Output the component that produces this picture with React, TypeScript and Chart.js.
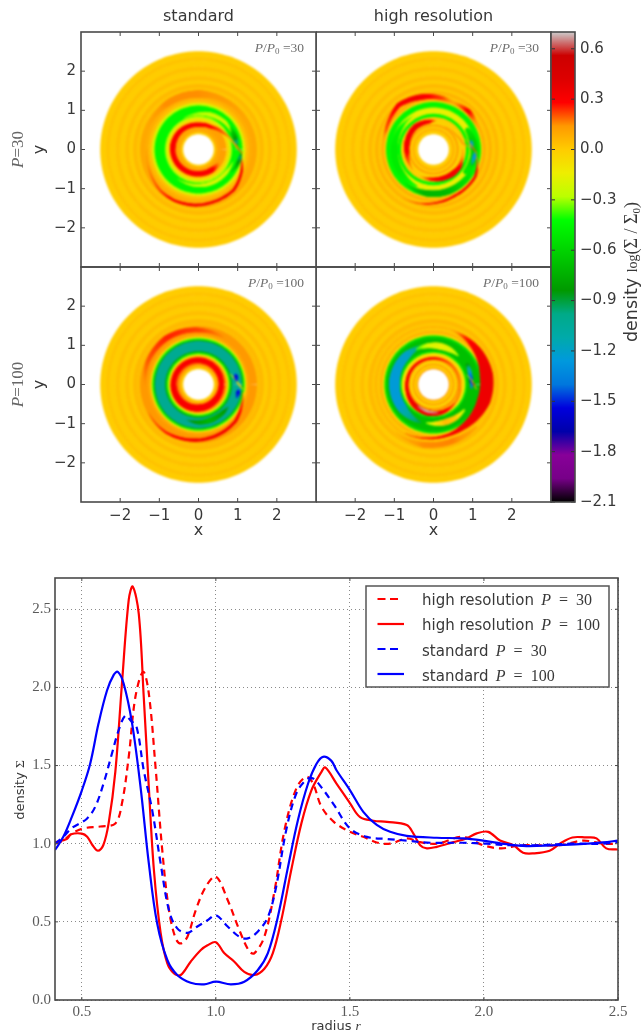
import { useEffect, useRef } from "react";
import { Chart, registerables } from "chart.js";
Chart.register(...registerables);

// ---------- colour scale (colour bar) ----------
const cbarMin = -2.1;
const cbarMax = 0.7;
const cbarTicks = [-2.1, -1.8, -1.5, -1.2, -0.9, -0.6, -0.3, 0.0, 0.3, 0.6];
const cmapR = [0, 119, 136, 0, 0, 0, 0, 0, 0, 0, 0, 0, 0, 187, 238, 255, 255, 255, 221, 204, 204];
const cmapG = [0, 0, 0, 0, 0, 119, 153, 170, 170, 153, 187, 221, 255, 255, 238, 204, 153, 0, 0, 0, 204];
const cmapB = [0, 136, 153, 170, 221, 221, 221, 170, 136, 0, 0, 0, 0, 0, 0, 0, 0, 0, 0, 0, 204];

function cmap(v: number) {
  const t = Math.min(1, Math.max(0, (v - cbarMin) / (cbarMax - cbarMin))) * (cmapR.length - 1);
  const i = Math.min(cmapR.length - 2, Math.floor(t));
  const f = t - i;
  const m = (a: number[]) => Math.round(a[i] + (a[i + 1] - a[i]) * f);
  return `rgb(${m(cmapR)},${m(cmapG)},${m(cmapB)})`;
}

// ---------- disc panels: ring edges, ring values, then bands [angle deg, radius, half width, value] ----------
type N = [number, number, number, number];

const outerEdges = [1.58, 1.68, 1.78, 1.88, 2.02, 2.12, 2.28, 2.36, 2.5];
const outerVals = [0.05, 0.0, 0.035, 0.0, 0.03, 0.0, 0.025, 0.0];

const ringsAEdges = [0.4, 0.46, 0.55, 0.72, 0.8, 0.86, 1.13, 1.2, 1.28, 1.36, 1.5, ...outerEdges];
const ringsAVals = [0.0, 0.1, 0.12, -0.05, -0.25, -0.45, -0.2, 0.03, 0.08, 0.1, 0.02, ...outerVals];
const bandsA: N[][] = [
  [[-180, 1.32, 0.02, 0.1], [-157, 1.36, 0.025, 0.16], [-133, 1.43, 0.03, 0.22], [-116, 1.44, 0.03, 0.3], [-92, 1.42, 0.035, 0.33], [-74, 1.39, 0.035, 0.33], [-49, 1.37, 0.035, 0.33], [-25, 1.22, 0.03, 0.3], [-15, 1.14, 0.02, 0.2], [-5, 1.08, 0.01, 0.1]],
  [[160, 1.4, 0.01, 0.1], [125, 1.42, 0.08, 0.15], [90, 1.42, 0.09, 0.15], [60, 1.42, 0.05, 0.13], [30, 1.42, 0.01, 0.1]],
  [[-30, 0.62, 0.03, 0.1], [-60, 0.62, 0.07, 0.3], [-90, 0.62, 0.07, 0.3], [-135, 0.64, 0.07, 0.3], [-180, 0.66, 0.07, 0.3], [-225, 0.66, 0.06, 0.3], [-270, 0.63, 0.05, 0.3], [-300, 0.66, 0.04, 0.28], [-325, 0.76, 0.03, 0.2], [-345, 0.88, 0.02, 0.1], [-358, 0.98, 0.012, 0.05]],
  [[25, 0.95, 0.01, -0.3], [45, 0.97, 0.05, -0.22], [70, 0.94, 0.06, -0.25], [95, 0.9, 0.03, -0.3], [115, 0.88, 0.01, -0.35]],
  [[-20, 0.93, 0.01, -0.3], [-40, 0.92, 0.05, -0.22], [-70, 0.92, 0.05, -0.2], [-100, 0.92, 0.03, -0.25], [-125, 0.92, 0.01, -0.35]],
  [[5, 1.0, 0.01, -0.7], [12, 0.98, 0.06, -1.0], [22, 0.98, 0.06, -0.75], [35, 1.0, 0.01, -0.5]],
  [[-3, 1.1, 0.01, -0.8], [-12, 1.08, 0.05, -0.95], [-25, 1.05, 0.03, -0.7], [-35, 1.0, 0.01, -0.5]],
  [[18, 0.85, 0.008, 0.1], [8, 0.95, 0.016, 0.15], [0, 1.03, 0.016, 0.2], [-5, 1.12, 0.012, 0.1]],
];

const ringsBEdges = [0.4, 0.5, 0.54, 0.6, 0.65, 0.76, 0.84, 0.92, 1.08, 1.22, 1.26, 1.34, 1.42, 1.5, ...outerEdges];
const ringsBVals = [0.0, 0.1, 0.0, 0.12, -0.02, 0.0, -0.45, -0.15, -0.45, -0.05, 0.08, 0.02, 0.07, 0.01, ...outerVals];
const bandsB: N[][] = [
  [[120, 1.0, 0.01, -0.3], [150, 1.0, 0.06, -0.45], [180, 1.0, 0.09, -0.5], [215, 1.02, 0.08, -0.5], [245, 1.03, 0.02, -0.4]],
  [[85, 0.74, 0.01, 0.15], [100, 0.72, 0.05, 0.3], [129, 0.74, 0.07, 0.33], [160, 0.7, 0.07, 0.32], [185, 0.68, 0.06, 0.3], [215, 0.72, 0.02, 0.15], [225, 0.74, 0.01, 0.1]],
  [[-115, 0.76, 0.01, 0.12], [-95, 0.76, 0.04, 0.26], [-74, 0.77, 0.06, 0.33], [-50, 0.79, 0.07, 0.33], [-32, 0.8, 0.05, 0.28], [-14, 0.76, 0.02, 0.14], [0, 0.74, 0.01, 0.1]],
  [[63, 0.65, 0.01, 0.12], [35, 0.68, 0.015, 0.14], [12, 0.76, 0.014, 0.16], [0, 0.98, 0.01, 0.1]],
  [[30, 1.0, 0.06, -0.5], [10, 1.03, 0.1, -0.6], [-12, 1.05, 0.1, -0.6], [-35, 1.0, 0.06, -0.5]],
  [[-130, 1.12, 0.02, -0.5], [-100, 1.13, 0.08, -0.72], [-70, 1.13, 0.085, -0.7], [-45, 1.12, 0.07, -0.55], [-25, 1.1, 0.02, -0.5]],
  [[170, 1.3, 0.012, 0.1], [158, 1.31, 0.035, 0.2], [145, 1.36, 0.04, 0.25], [128, 1.44, 0.06, 0.3], [106, 1.38, 0.07, 0.33], [80, 1.33, 0.05, 0.22], [68, 1.3, 0.03, 0.1], [55, 1.31, 0.05, 0.22], [47, 1.32, 0.06, 0.3], [35, 1.28, 0.04, 0.15], [25, 1.26, 0.01, 0.08]],
  [[-122, 1.47, 0.012, 0.12], [-105, 1.42, 0.015, 0.22], [-92, 1.38, 0.02, 0.33], [-65, 1.3, 0.03, 0.3], [-33, 1.27, 0.03, 0.33], [-15, 1.16, 0.015, 0.18], [-4, 1.07, 0.01, 0.08]],
  [[15, 0.98, 0.01, -0.8], [10, 0.98, 0.05, -1.2], [5, 0.98, 0.03, -1.25], [2, 0.98, 0.01, -0.9]],
  [[-3, 1.05, 0.01, -0.9], [-9, 1.06, 0.05, -1.3], [-16, 1.05, 0.03, -1.2], [-22, 1.05, 0.01, -0.8]],
  [[18, 0.85, 0.008, 0.1], [8, 0.95, 0.014, 0.15], [0, 1.03, 0.014, 0.22], [-5, 1.12, 0.01, 0.1]],
];

const ringsCEdges = [0.4, 0.46, 0.52, 0.7, 0.74, 0.78, 0.82, 0.86, 1.12, 1.15, 1.19, 1.23, 1.3, 1.5, ...outerEdges];
const ringsCVals = [0.0, 0.1, 0.18, 0.1, -0.1, -0.4, -0.75, -1.02, -0.75, -0.4, -0.1, 0.1, 0.14, 0.04, ...outerVals];
const bandsC: N[][] = [
  [[0, 0.58, 0.06, 0.3], [45, 0.6, 0.07, 0.3], [90, 0.62, 0.07, 0.31], [135, 0.63, 0.07, 0.31], [180, 0.64, 0.07, 0.31], [225, 0.63, 0.08, 0.31], [270, 0.6, 0.085, 0.31], [315, 0.58, 0.075, 0.3], [360, 0.58, 0.06, 0.3]],
  [[-150, 1.47, 0.02, 0.16], [-125, 1.48, 0.03, 0.26], [-92, 1.42, 0.04, 0.33], [-70, 1.38, 0.04, 0.33], [-45, 1.33, 0.04, 0.33], [-25, 1.22, 0.025, 0.25], [-10, 1.16, 0.012, 0.1]],
  [[60, 1.36, 0.03, 0.14], [90, 1.39, 0.06, 0.22], [125, 1.44, 0.07, 0.25], [155, 1.42, 0.05, 0.2], [180, 1.36, 0.02, 0.14]],
  [[-108, 0.95, 0.01, -0.9], [-90, 0.97, 0.05, -0.8], [-72, 0.96, 0.07, -0.72], [-50, 0.95, 0.05, -0.8], [-38, 0.95, 0.01, -0.9]],
  [[18, 0.85, 0.01, -0.1], [8, 0.95, 0.016, -0.1], [0, 1.03, 0.018, 0.0], [-6, 1.13, 0.012, -0.1]],
  [[19, 0.98, 0.008, -1.2], [12, 0.98, 0.05, -1.55], [6, 0.98, 0.015, -1.45]],
  [[-5, 1.04, 0.008, -1.2], [-11, 1.03, 0.05, -1.55], [-18, 1.03, 0.015, -1.45]],
];

const ringsDEdges = [0.4, 0.43, 0.5, 0.54, 0.62, 0.67, 0.76, 0.82, 0.86, 1.2, 1.26, 1.3, 1.38, 1.46, 1.5, ...outerEdges];
const ringsDVals = [0.14, 0.0, 0.12, -0.02, 0.15, 0.0, -0.1, -0.5, -0.68, -0.55, -0.1, 0.06, 0.02, 0.07, 0.02, ...outerVals];
const bandsD: N[][] = [
  [[105, 1.02, 0.02, -0.9], [135, 1.01, 0.11, -1.2], [175, 1.0, 0.135, -1.24], [215, 1.0, 0.12, -1.24], [250, 1.02, 0.02, -0.9]],
  [[50, 0.97, 0.02, -0.3], [65, 0.98, 0.07, -0.2], [80, 0.99, 0.085, -0.15], [98, 1.0, 0.06, -0.2], [115, 1.0, 0.02, -0.4]],
  [[-100, 1.0, 0.02, -0.3], [-85, 1.0, 0.06, -0.1], [-70, 1.01, 0.08, 0.05], [-55, 1.02, 0.06, 0.0], [-40, 1.02, 0.02, -0.3]],
  [[30, 1.0, 0.05, -0.8], [15, 0.97, 0.05, -1.35], [5, 0.97, 0.04, -1.5], [-5, 0.97, 0.02, -1.3]],
  [[72, 1.46, 0.01, 0.1], [55, 1.44, 0.05, 0.25], [35, 1.41, 0.11, 0.33], [10, 1.37, 0.17, 0.35], [-15, 1.35, 0.17, 0.35], [-35, 1.33, 0.12, 0.35], [-54, 1.32, 0.07, 0.33], [-72, 1.34, 0.035, 0.3], [-95, 1.38, 0.02, 0.3], [-120, 1.44, 0.012, 0.15]],
  [[-130, 1.55, 0.01, 0.06], [-100, 1.56, 0.07, 0.15], [-70, 1.52, 0.07, 0.16], [-45, 1.54, 0.02, 0.1]],
  [[-40, 0.72, 0.02, 0.2], [-70, 0.74, 0.05, 0.3], [-100, 0.74, 0.07, 0.33], [-130, 0.72, 0.065, 0.33], [-165, 0.69, 0.04, 0.32], [-190, 0.68, 0.035, 0.32], [-225, 0.68, 0.03, 0.32], [-270, 0.67, 0.025, 0.3], [-315, 0.68, 0.02, 0.2], [-360, 0.68, 0.02, 0.16], [-400, 0.72, 0.02, 0.18]],
  [[-137, 0.68, 0.005, 0.5], [-122, 0.68, 0.022, 0.64], [-105, 0.7, 0.025, 0.69], [-85, 0.72, 0.018, 0.66], [-75, 0.73, 0.005, 0.5]],
  [[16, 0.88, 0.008, 0.0], [8, 0.97, 0.012, -0.1], [1, 1.02, 0.016, 0.28], [-6, 1.1, 0.01, -0.1]],
];

// ---------- line chart ----------
const hr30R = [0.4, 0.431, 0.4625, 0.506, 0.569, 0.625, 0.65, 0.675, 0.7, 0.729, 0.75, 0.775, 0.8, 0.825, 0.85, 0.869, 0.894, 0.925, 0.9625, 1.0, 1.044, 1.0875, 1.125, 1.144, 1.181, 1.219, 1.256, 1.3, 1.3375, 1.3625, 1.394, 1.44, 1.5, 1.55, 1.6, 1.65, 1.712, 1.762, 1.824, 1.923, 1.997, 2.065, 2.134, 2.208, 2.283, 2.37, 2.444, 2.5];
const hr30V = [1.0, 1.02, 1.065, 1.098, 1.11, 1.13, 1.26, 1.556, 1.94, 2.1, 1.96, 1.49, 0.96, 0.575, 0.394, 0.362, 0.405, 0.575, 0.725, 0.79, 0.64, 0.448, 0.31, 0.3, 0.405, 0.7, 1.087, 1.353, 1.428, 1.385, 1.236, 1.14, 1.076, 1.044, 1.008, 1.0, 1.034, 1.01, 1.0, 1.044, 0.99, 0.97, 0.99, 0.99, 0.99, 1.02, 1.0, 1.0];
const hr100R = [0.4, 0.444, 0.46, 0.5, 0.52, 0.54, 0.56, 0.58, 0.6, 0.625, 0.65, 0.675, 0.69, 0.7125, 0.731, 0.75, 0.769, 0.794, 0.819, 0.844, 0.869, 0.906, 0.944, 0.969, 1.0, 1.031, 1.069, 1.106, 1.144, 1.181, 1.2125, 1.244, 1.281, 1.319, 1.356, 1.394, 1.408, 1.45, 1.5, 1.538, 1.588, 1.638, 1.712, 1.737, 1.762, 1.787, 1.824, 1.886, 1.935, 1.973, 2.016, 2.06, 2.11, 2.146, 2.184, 2.245, 2.283, 2.33, 2.38, 2.42, 2.456, 2.5];
const hr100V = [1.01, 1.03, 1.06, 1.065, 1.045, 0.99, 0.955, 0.99, 1.13, 1.46, 2.03, 2.56, 2.645, 2.47, 1.94, 1.36, 0.83, 0.43, 0.234, 0.17, 0.16, 0.245, 0.32, 0.35, 0.37, 0.3, 0.245, 0.18, 0.16, 0.2, 0.3, 0.51, 0.83, 1.13, 1.34, 1.46, 1.488, 1.385, 1.26, 1.17, 1.147, 1.14, 1.12, 1.065, 0.99, 0.97, 0.98, 1.01, 1.034, 1.066, 1.076, 1.02, 0.99, 0.942, 0.938, 0.955, 1.0, 1.04, 1.04, 1.034, 0.97, 0.963];
const st30R = [0.4, 0.431, 0.4625, 0.519, 0.55, 0.581, 0.6125, 0.6375, 0.6625, 0.681, 0.704, 0.731, 0.7625, 0.794, 0.825, 0.856, 0.894, 0.931, 0.969, 1.0, 1.044, 1.0875, 1.119, 1.156, 1.194, 1.225, 1.2625, 1.3, 1.3375, 1.3625, 1.394, 1.44, 1.5, 1.563, 1.638, 1.712, 1.8, 1.923, 2.01, 2.097, 2.196, 2.32, 2.444, 2.5];
const st30V = [1.0, 1.044, 1.1, 1.16, 1.236, 1.385, 1.577, 1.726, 1.82, 1.79, 1.748, 1.47, 1.215, 0.874, 0.575, 0.458, 0.43, 0.47, 0.51, 0.543, 0.47, 0.405, 0.394, 0.437, 0.53, 0.725, 1.087, 1.32, 1.41, 1.417, 1.36, 1.25, 1.098, 1.044, 1.03, 1.02, 1.006, 1.006, 1.0, 0.99, 0.99, 1.0, 1.0, 1.012];
const st100R = [0.4, 0.431, 0.4625, 0.5, 0.531, 0.5625, 0.594, 0.619, 0.634, 0.656, 0.6875, 0.719, 0.75, 0.781, 0.819, 0.856, 0.906, 0.956, 1.0, 1.056, 1.106, 1.156, 1.194, 1.231, 1.269, 1.306, 1.344, 1.375, 1.4, 1.431, 1.45, 1.5, 1.55, 1.6, 1.65, 1.712, 1.824, 1.923, 1.997, 2.084, 2.158, 2.258, 2.357, 2.444, 2.5];
const st100V = [0.96, 1.044, 1.17, 1.34, 1.51, 1.77, 1.98, 2.08, 2.1, 2.025, 1.77, 1.364, 0.874, 0.49, 0.256, 0.16, 0.11, 0.1, 0.117, 0.1, 0.117, 0.19, 0.3, 0.53, 0.85, 1.15, 1.385, 1.51, 1.556, 1.53, 1.47, 1.343, 1.204, 1.12, 1.076, 1.05, 1.038, 1.034, 1.02, 0.997, 0.985, 0.99, 0.997, 1.008, 1.02];
const xTicks = [0.5, 1.0, 1.5, 2.0, 2.5];
const yTicks = [0.0, 0.5, 1.0, 1.5, 2.0, 2.5];
const panelTicks = [-2, -1, 0, 1, 2];

// ---------- helpers ----------
const SANS = "'DejaVu Sans'";
const SERIF = "'Liberation Serif'";
const INK = "#383838";
const FRAME = "#4a4a4a";
type Run = { t: string; f: string; dy?: number };

function drawRuns(ctx: any, rs: Run[], x: number, y: number, color: string, rot = 0, align = "center") {
  ctx.save();
  ctx.translate(x, y);
  ctx.rotate(rot);
  ctx.textBaseline = "alphabetic";
  ctx.textAlign = "left";
  ctx.fillStyle = color;
  let total = 0;
  for (const r of rs) { ctx.font = r.f; total += ctx.measureText(r.t).width; }
  let cx = align === "center" ? -total / 2 : align === "right" ? -total : 0;
  for (const r of rs) {
    ctx.font = r.f;
    ctx.fillText(r.t, cx, r.dy || 0);
    cx += ctx.measureText(r.t).width;
  }
  ctx.restore();
}

const minusLabel = (v: number, d: number) => (v < 0 ? "\u2212" : "") + Math.abs(v).toFixed(d);

function ringDatasets(edges: number[], vals: number[], start: number) {
  const out: any[] = [];
  vals.forEach((v, k) => {
    const mid = (edges[k] + edges[k + 1]) / 2;
    const data = [];
    for (let a = 0; a <= 360; a += 4) data.push({ x: mid * Math.cos((a * Math.PI) / 180), y: mid * Math.sin((a * Math.PI) / 180) });
    const thick = edges[k + 1] - edges[k];
    out.push({
      data,
      showLine: true,
      tension: 0.2,
      pointRadius: 0,
      borderColor: cmap(v),
      borderWidth: (c: any) => thick * Math.abs(c.chart.scales.x.getPixelForValue(1) - c.chart.scales.x.getPixelForValue(0)) + 0.7,
      order: -(start + k),
    });
  });
  return out;
}

function bandDataset(nodes: N[], index: number) {
  const pts: any[] = [];
  const ws: number[] = [];
  const cs: string[] = [];
  for (let i = 0; i < nodes.length - 1; i++) {
    const a = nodes[i];
    const b = nodes[i + 1];
    const n = Math.max(2, Math.ceil(Math.abs(b[0] - a[0]) / 2.5));
    for (let s = 0; s < n + (i === nodes.length - 2 ? 1 : 0); s++) {
      const f = s / n;
      const th = ((a[0] + (b[0] - a[0]) * f) * Math.PI) / 180;
      const r = a[1] + (b[1] - a[1]) * f;
      pts.push({ x: r * Math.cos(th), y: r * Math.sin(th) });
      ws.push(2 * (a[2] + (b[2] - a[2]) * f));
      cs.push(cmap(a[3] + (b[3] - a[3]) * f));
    }
  }
  const ppu = (c: any) => Math.abs(c.chart.scales.x.getPixelForValue(1) - c.chart.scales.x.getPixelForValue(0));
  return {
    data: pts,
    showLine: true,
    tension: 0.2,
    pointRadius: 0,
    borderCapStyle: "round",
    borderColor: cs[0],
    borderWidth: 1,
    order: -index,
    segment: {
      borderColor: (c: any) => cs[c.p0DataIndex],
      borderWidth: (c: any) => ws[c.p0DataIndex] * ppu(c),
    },
  };
}

function frameAndTicks(chart: any, len = 4) {
  const { ctx, chartArea: a, scales } = chart;
  ctx.save();
  ctx.strokeStyle = FRAME;
  ctx.lineWidth = 1;
  ctx.beginPath();
  for (const t of scales.x.ticks) {
    const p = scales.x.getPixelForValue(t.value);
    ctx.moveTo(p, a.top); ctx.lineTo(p, a.top + len);
    ctx.moveTo(p, a.bottom); ctx.lineTo(p, a.bottom - len);
  }
  for (const t of scales.y.ticks) {
    const p = scales.y.getPixelForValue(t.value);
    ctx.moveTo(a.left, p); ctx.lineTo(a.left + len, p);
    ctx.moveTo(a.right, p); ctx.lineTo(a.right - len, p);
  }
  ctx.stroke();
  ctx.lineWidth = 1.6;
  ctx.strokeRect(a.left, a.top, a.right - a.left, a.bottom - a.top);
  ctx.restore();
}

const softDisc = {
  id: "softDisc",
  afterDatasetsDraw(chart: any) {
    const { left, top, right, bottom } = chart.chartArea;
    const w = right - left;
    const h = bottom - top;
    const tmp = document.createElement("canvas");
    tmp.width = w;
    tmp.height = h;
    tmp.getContext("2d")!.drawImage(chart.canvas, left, top, w, h, 0, 0, w, h);
    const ctx = chart.ctx;
    ctx.save();
    ctx.clearRect(left, top, w, h);
    ctx.filter = "blur(0.9px)";
    ctx.drawImage(tmp, left, top);
    ctx.restore();
  },
};

function areaScale(cfg: any, size: number, horizontal: boolean) {
  return {
    ...cfg,
    afterFit(s: any) {
      if (horizontal) s.height = size; else s.width = size;
      s.paddingLeft = s.paddingRight = s.paddingTop = s.paddingBottom = 0;
    },
  };
}

type Box = { x: number; y: number; w: number; h: number };
const Canvas = ({ box, make }: { box: Box; make: () => any }) => {
  const ref = useRef<HTMLCanvasElement>(null);
  useEffect(() => {
    const chart = new Chart(ref.current!, make());
    return () => chart.destroy();
  }, []);
  return (
    <canvas
      ref={ref}
      width={box.w}
      height={box.h}
      style={{ position: "absolute", left: box.x, top: box.y, width: box.w, height: box.h, filter: "blur(0.35px)" }}
    />
  );
};

// ---------- disc panel ----------
function panelConfig(o: {
  box: Box; left: number; top: number; right: number; bottom: number; edges: number[]; vals: number[]; bands: N[][];
  showX: boolean; showY: boolean; tag: Run[]; title?: string; rowLabel?: Run[];
}) {
  const rings = ringDatasets(o.edges, o.vals, 0);
  const bands = o.bands.map((b, i) => bandDataset(b, o.vals.length + i));
  return {
    type: "scatter",
    data: { datasets: [...rings, ...bands] },
    options: {
      animation: false,
      responsive: false,
      devicePixelRatio: 1,
      layout: { padding: { top: o.top - o.box.y, right: o.box.x + o.box.w - o.right, left: 0, bottom: 0 } },
      plugins: { legend: { display: false }, tooltip: { enabled: false } },
      scales: {
        x: areaScale({
          type: "linear", min: -3, max: 3,
          grid: { display: false, drawTicks: false }, border: { display: false },
          afterBuildTicks: (s: any) => { s.ticks = panelTicks.map((value) => ({ value })); },
          ticks: { display: o.showX, padding: 5, color: INK, font: { family: "DejaVu Sans", size: 15 }, maxRotation: 0, callback: (v: any) => minusLabel(v, 0) },
        }, o.box.y + o.box.h - o.bottom, true),
        y: areaScale({
          type: "linear", min: -3, max: 3,
          grid: { display: false, drawTicks: false }, border: { display: false },
          afterBuildTicks: (s: any) => { s.ticks = panelTicks.map((value) => ({ value })); },
          ticks: { display: o.showY, padding: 5, color: INK, font: { family: "DejaVu Sans", size: 15 }, callback: (v: any) => minusLabel(v, 0) },
        }, o.left - o.box.x, false),
      },
    },
    plugins: [
      softDisc,
      {
        id: "panelDecor",
        afterDraw(chart: any) {
          const { ctx, chartArea: a } = chart;
          frameAndTicks(chart);
          const ox = o.box.x;
          const oy = o.box.y;
          drawRuns(ctx, o.tag, a.right - 12, a.top + 20, "#6e6e6e", 0, "right");
          if (o.title) drawRuns(ctx, [{ t: o.title, f: `16px ${SANS}` }], (a.left + a.right) / 2, 21 - oy, INK);
          if (o.showX) drawRuns(ctx, [{ t: "x", f: `16px ${SANS}` }], (a.left + a.right) / 2, 535 - oy, INK);
          if (o.showY) {
            drawRuns(ctx, [{ t: "y", f: `16px ${SANS}` }], 44 - ox, (a.top + a.bottom) / 2, INK, -Math.PI / 2);
            if (o.rowLabel) drawRuns(ctx, o.rowLabel, 23 - ox, (a.top + a.bottom) / 2, "#666666", -Math.PI / 2);
          }
        },
      },
    ],
  };
}

const tagRuns = (n: string): Run[] => [
  { t: "P", f: `italic 13.5px ${SERIF}` },
  { t: "/", f: `13.5px ${SERIF}` },
  { t: "P", f: `italic 13.5px ${SERIF}` },
  { t: "0", f: `9px ${SERIF}`, dy: 2 },
  { t: " =" + n, f: `13.5px ${SERIF}` },
];
const rowRuns = (n: string): Run[] => [
  { t: "P", f: `italic 17px ${SERIF}` },
  { t: "=" + n, f: `17px ${SERIF}` },
];

const boxA: Box = { x: 0, y: 0, w: 318, h: 269 };
const boxB: Box = { x: 316, y: 0, w: 237, h: 269 };
const boxC: Box = { x: 0, y: 265, w: 318, h: 280 };
const boxD: Box = { x: 316, y: 265, w: 237, h: 280 };

// ---------- colour bar ----------
const boxBar: Box = { x: 549, y: 20, w: 93, h: 500 };
function barConfig() {
  return {
    type: "bar",
    data: {
      labels: ["c"],
      datasets: [{
        data: [[cbarMin, cbarMax]],
        barPercentage: 1,
        categoryPercentage: 1,
        backgroundColor: (c: any) => {
          const ch = c.chart;
          if (!ch.chartArea) return "#fff";
          const g = ch.ctx.createLinearGradient(0, ch.chartArea.bottom, 0, ch.chartArea.top);
          cmapR.forEach((_, i) => g.addColorStop(i / (cmapR.length - 1), `rgb(${cmapR[i]},${cmapG[i]},${cmapB[i]})`));
          return g;
        },
      }],
    },
    options: {
      animation: false,
      responsive: false,
      devicePixelRatio: 1,
      layout: { padding: { top: 12, left: 2, right: 0, bottom: 0 } },
      plugins: { legend: { display: false }, tooltip: { enabled: false } },
      scales: {
        x: areaScale({ display: true, grid: { display: false }, border: { display: false }, ticks: { display: false } }, 18, true),
        y: areaScale({
          position: "right", min: cbarMin, max: cbarMax,
          grid: { display: false, drawTicks: false }, border: { display: false },
          afterBuildTicks: (s: any) => { s.ticks = cbarTicks.map((value) => ({ value })); },
          ticks: { padding: 5, color: INK, font: { family: "DejaVu Sans", size: 15 }, autoSkip: false, callback: (v: any) => minusLabel(v, 1) },
        }, 67, false),
      },
    },
    plugins: [{
      id: "barDecor",
      afterDraw(chart: any) {
        const { ctx, chartArea: a, scales } = chart;
        ctx.save();
        ctx.strokeStyle = "#333";
        ctx.lineWidth = 1;
        ctx.beginPath();
        for (const t of scales.y.ticks) {
          const p = scales.y.getPixelForValue(t.value);
          ctx.moveTo(a.left, p); ctx.lineTo(a.left + 4, p);
          ctx.moveTo(a.right, p); ctx.lineTo(a.right - 4, p);
        }
        ctx.stroke();
        ctx.lineWidth = 1.6;
        ctx.strokeStyle = FRAME;
        ctx.strokeRect(a.left, a.top, a.right - a.left, a.bottom - a.top);
        ctx.restore();
        drawRuns(ctx, [
          { t: "density ", f: `17.5px ${SANS}` },
          { t: "log", f: `14px ${SERIF}` },
          { t: "(\u03A3 / \u03A3", f: `18px ${SERIF}` },
          { t: "0", f: `11px ${SERIF}`, dy: 3 },
          { t: ")", f: `18px ${SERIF}` },
        ], 637 - boxBar.x, 272 - boxBar.y, INK, -Math.PI / 2);
      },
    }],
  };
}

// ---------- bottom line chart ----------
const boxLine: Box = { x: 0, y: 560, w: 642, h: 475 };
const legendRows = [
  { label: "high resolution ", n: "30", color: "#ff0000", dash: true, lineY: 599, baseY: 605 },
  { label: "high resolution ", n: "100", color: "#ff0000", dash: false, lineY: 624, baseY: 630 },
  { label: "standard ", n: "30", color: "#0000ff", dash: true, lineY: 649, baseY: 656 },
  { label: "standard ", n: "100", color: "#0000ff", dash: false, lineY: 674, baseY: 681 },
];
const lineSeries = [
  { label: "high resolution P = 30", r: hr30R, v: hr30V, color: "#ff0000", dash: true },
  { label: "high resolution P = 100", r: hr100R, v: hr100V, color: "#ff0000", dash: false },
  { label: "standard P = 30", r: st30R, v: st30V, color: "#0000ff", dash: true },
  { label: "standard P = 100", r: st100R, v: st100V, color: "#0000ff", dash: false },
];
function lineConfig() {
  const grid = { color: "#8a8a8a", lineWidth: 1, drawTicks: false };
  const border = { display: false, dash: [1, 3] };
  const tickFont = { family: "Liberation Serif", size: 15 };
  return {
    type: "line",
    data: {
      datasets: lineSeries.map((s, i) => ({
        label: s.label,
        data: s.r.map((x, k) => ({ x, y: s.v[k] })),
        borderColor: s.color,
        borderWidth: 2.2,
        borderDash: s.dash ? [7, 5] : [],
        pointRadius: 0,
        tension: 0.35,
        order: -i,
      })),
    },
    options: {
      animation: false,
      responsive: false,
      devicePixelRatio: 1,
      layout: { padding: { top: 18, right: 24, left: 0, bottom: 0 } },
      plugins: { legend: { display: false }, tooltip: { enabled: false } },
      scales: {
        x: areaScale({
          type: "linear", min: 0.4, max: 2.5, grid, border,
          afterBuildTicks: (s: any) => { s.ticks = xTicks.map((value) => ({ value })); },
          ticks: { padding: 3, color: "#5a5a5a", font: tickFont, maxRotation: 0, callback: (v: any) => Number(v).toFixed(1) },
        }, 35, true),
        y: areaScale({
          type: "linear", min: 0, max: 2.7, grid, border,
          afterBuildTicks: (s: any) => { s.ticks = yTicks.map((value) => ({ value })); },
          ticks: { padding: 4, color: "#5a5a5a", font: tickFont, callback: (v: any) => Number(v).toFixed(1) },
        }, 55, false),
      },
    },
    plugins: [{
      id: "lineDecor",
      afterDraw(chart: any) {
        const { ctx } = chart;
        const oy = boxLine.y;
        frameAndTicks(chart, 3);
        ctx.save();
        ctx.fillStyle = "#fff";
        ctx.fillRect(366, 586 - oy, 243, 101);
        ctx.strokeStyle = "#555";
        ctx.lineWidth = 1.5;
        ctx.strokeRect(366, 586 - oy, 243, 101);
        legendRows.forEach((r) => {
          ctx.beginPath();
          ctx.strokeStyle = r.color;
          ctx.lineWidth = 2.2;
          ctx.setLineDash(r.dash ? [8, 4.5] : []);
          ctx.moveTo(377.5, r.lineY - oy);
          ctx.lineTo(r.dash ? 401 : 404, r.lineY - oy);
          ctx.stroke();
          ctx.setLineDash([]);
          drawRuns(ctx, [
            { t: r.label, f: `15px ${SANS}` },
            { t: " ", f: `8px ${SANS}` },
            { t: "P", f: `italic 16px ${SERIF}` },
            { t: "  =  " + r.n, f: `16px ${SERIF}` },
          ], 422, r.baseY - oy, INK, 0, "left");
        });
        ctx.restore();
        drawRuns(ctx, [
          { t: "radius ", f: `13px ${SANS}` },
          { t: "r", f: `italic 13.5px ${SERIF}` },
        ], 336, 1030 - oy, INK);
        drawRuns(ctx, [
          { t: "density ", f: `13px ${SANS}` },
          { t: "\u03A3", f: `13.5px ${SERIF}` },
        ], 24, 790 - oy, INK, -Math.PI / 2);
      },
    }],
  };
}

export default function App() {
  return (
    <div style={{ position: "absolute", left: 0, top: 0, width: 642, height: 1035, background: "#fff", overflow: "hidden" }}>
      <Canvas box={boxLine} make={lineConfig} />
      <Canvas box={boxA} make={() => panelConfig({ box: boxA, left: 81, top: 32, right: 316, bottom: 267, edges: ringsAEdges, vals: ringsAVals, bands: bandsA, showX: false, showY: true, tag: tagRuns("30"), title: "standard", rowLabel: rowRuns("30") })} />
      <Canvas box={boxC} make={() => panelConfig({ box: boxC, left: 81, top: 267, right: 316, bottom: 502, edges: ringsCEdges, vals: ringsCVals, bands: bandsC, showX: true, showY: true, tag: tagRuns("100"), rowLabel: rowRuns("100") })} />
      <Canvas box={boxB} make={() => panelConfig({ box: boxB, left: 316, top: 32, right: 551, bottom: 267, edges: ringsBEdges, vals: ringsBVals, bands: bandsB, showX: false, showY: false, tag: tagRuns("30"), title: "high resolution" })} />
      <Canvas box={boxD} make={() => panelConfig({ box: boxD, left: 316, top: 267, right: 551, bottom: 502, edges: ringsDEdges, vals: ringsDVals, bands: bandsD, showX: true, showY: false, tag: tagRuns("100") })} />
      <Canvas box={boxBar} make={barConfig} />
    </div>
  );
}
